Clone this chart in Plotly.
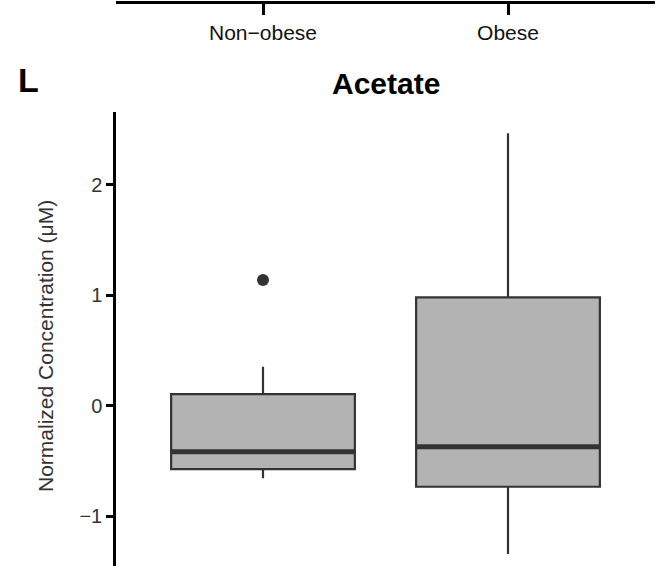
import plotly.graph_objects as go

# ---- data ----
categories = ["Non−obese", "Obese"]
cat_pos = [0, 1]
q1 = [-0.575, -0.735]
median = [-0.418, -0.373]
q3 = [0.104, 0.979]
lower_whisker = [-0.659, -1.344]
upper_whisker = [0.351, 2.463]
outlier_cat = [0]
outlier_val = [1.136]
y_ticks = [-1, 0, 1, 2]

BOX_W = 0.75
FILL = "#B3B3B3"
EDGE = "#333333"

fig = go.Figure()

for i, c in enumerate(categories):
    fig.add_trace(go.Box(
        x=[cat_pos[i]], q1=[q1[i]], median=[median[i]], q3=[q3[i]],
        lowerfence=[lower_whisker[i]], upperfence=[upper_whisker[i]],
        width=BOX_W, whiskerwidth=0, fillcolor=FILL,
        line=dict(color=EDGE, width=2.2), boxpoints=False,
        name=c, showlegend=False, hoverinfo="skip",
        xaxis="x", yaxis="y",
    ))
    # thick median (ggplot fatten)
    fig.add_trace(go.Scatter(
        x=[cat_pos[i] - BOX_W / 2, cat_pos[i] + BOX_W / 2],
        y=[median[i], median[i]], mode="lines",
        line=dict(color=EDGE, width=5), showlegend=False, hoverinfo="skip",
        xaxis="x", yaxis="y",
    ))

fig.add_trace(go.Scatter(
    x=outlier_cat, y=outlier_val, mode="markers",
    marker=dict(color=EDGE, size=12), showlegend=False, hoverinfo="skip",
    xaxis="x", yaxis="y",
))

# top panel (cut-off previous panel): only its x axis visible
fig.add_trace(go.Scatter(x=[None], y=[None], xaxis="x2", yaxis="y2", showlegend=False))

font_family = "Liberation Sans, Arial, sans-serif"

fig.update_layout(
    width=658, height=566,
    margin=dict(l=116, r=3, t=0, b=0),
    paper_bgcolor="white", plot_bgcolor="white",
    font=dict(family=font_family, color="#333333"),
    xaxis=dict(domain=[0, 1], range=[-0.6, 1.6], showline=False, showticklabels=False,
               ticks="", showgrid=False, zeroline=False, anchor="y", fixedrange=True),
    yaxis=dict(domain=[0, 454 / 566], range=[-1.452, 2.656], showline=True, linecolor="black",
               linewidth=2.5, ticks="outside", ticklen=7, tickwidth=2.5, tickcolor="black",
               tickvals=y_ticks, tickfont=dict(size=20, color="#333333"),
               showgrid=False, zeroline=False, anchor="x"),
    xaxis2=dict(domain=[0, 1], range=[-0.6, 1.6], tickvals=cat_pos, ticktext=categories,
                showline=True, linecolor="black", linewidth=3, ticks="outside", ticklen=11,
                tickwidth=2.5, tickcolor="black", tickfont=dict(size=21, color="#111111"),
                showgrid=False, zeroline=False, anchor="y2"),
    yaxis2=dict(domain=[0.998, 1], visible=False, anchor="x2"),
)

fig.add_annotation(text="<b>Acetate</b>", x=0.5, y=1 - 84 / 566, xref="x domain", yref="paper",
                   xanchor="center", yanchor="middle", showarrow=False,
                   font=dict(size=30, color="black", family=font_family))
fig.add_annotation(text="<b>L</b>", x=(28 - 116) / 539, y=1 - 80 / 566, xref="paper", yref="paper",
                   xanchor="center", yanchor="middle", showarrow=False,
                   font=dict(size=34, color="black", family=font_family))
fig.add_annotation(text="Normalized Concentration (μM)", x=(45 - 116) / 539, y=1 - 346 / 566,
                   xref="paper", yref="paper", textangle=-90, xanchor="center", yanchor="middle",
                   showarrow=False, font=dict(size=21, color="#333333", family=font_family))

fig.write_html("out.html")
